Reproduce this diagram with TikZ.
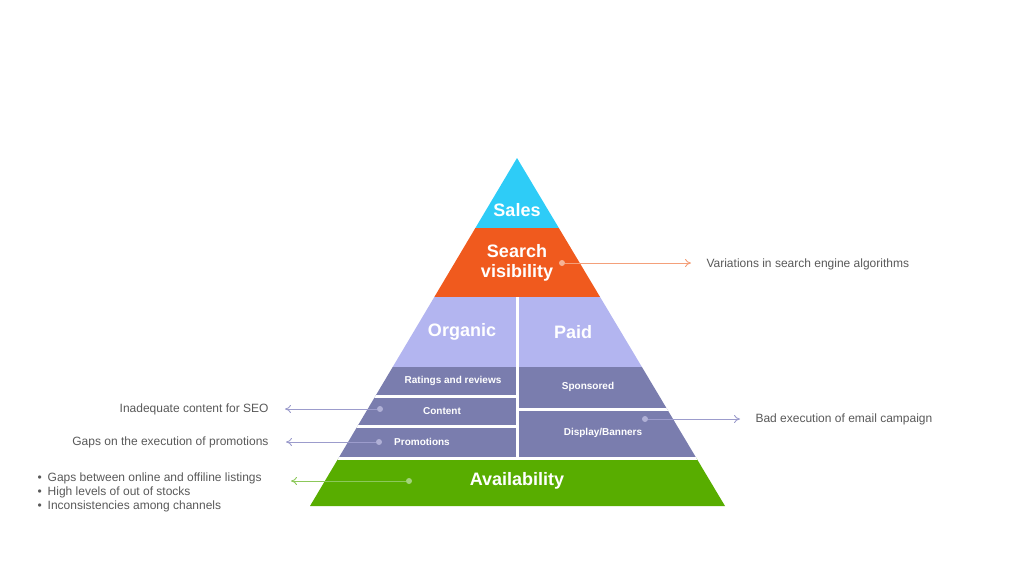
\documentclass[tikz,border=0pt]{standalone}
\usepackage{fontspec}
\setmainfont{Liberation Sans}
\usetikzlibrary{arrows.meta}
\definecolor{salescyan}{HTML}{2ECCF7}
\definecolor{searchorange}{HTML}{F05A1E}
\definecolor{lightlav}{HTML}{B3B5F0}
\definecolor{darklav}{HTML}{7A7DAE}
\definecolor{availgreen}{HTML}{58AD00}
\definecolor{txtgrey}{HTML}{595959}
\definecolor{orangeline}{HTML}{F4A07A}
\definecolor{lavline}{HTML}{9C9CCC}
\definecolor{greenline}{HTML}{8CC85A}

\begin{document}
\begin{tikzpicture}[x=1pt, y=-1pt,
    layer/.style={font=\bfseries\fontsize{18}{20}\selectfont, text=white, align=center},
    cell/.style={font=\bfseries\fontsize{10}{12}\selectfont, text=white},
    note/.style={font=\fontsize{12}{14}\selectfont, text=txtgrey},
    gap/.style={white, line width=3pt},
    dot/.style={circle, inner sep=0pt, minimum size=6pt, fill=#1!80},
    link/.style={-{To[length=6pt,width=8pt]}, #1, line width=0.9pt}
]
\useasboundingbox (0,0) rectangle (1024,576);

% Pyramid bands
\begin{scope}
  \clip (517,158) -- (725,506) -- (310,506) -- cycle;
  \fill[salescyan] (300,150) rectangle (740,228);
  \fill[searchorange] (300,228) rectangle (740,297);
  \fill[lightlav] (300,297) rectangle (740,367);
  \fill[darklav] (300,367) rectangle (740,458);
  \fill[availgreen] (300,458) rectangle (740,510);
  % white separators
  \draw[gap] (517,297) -- (517,458);
  \draw[gap] (300,396.5) -- (517,396.5);
  \draw[gap] (300,426.5) -- (517,426.5);
  \draw[gap] (517,409.5) -- (740,409.5);
  \draw[gap] (300,458.5) -- (740,458.5);
\end{scope}

% Layer labels
\node[layer] (sales) at (517,210) {Sales};
\node[layer] (search) at (517,263) {Search\\visibility};
\node[layer] (organic) at (462,332) {Organic};
\node[layer] (paid) at (573,332) {Paid};
\node[cell] (ratings) at (453,381) {Ratings and reviews};
\node[cell] (content) at (442,411) {Content};
\node[cell] (promo) at (422,442) {Promotions};
\node[cell] (sponsored) at (588,387) {Sponsored};
\node[cell] (display) at (603,433) {Display/Banners};
\node[layer] (avail) at (517,481) {Availability};

% Dots
\node[dot=orangeline] (d1) at (562,263) {};
\node[dot=lavline] (d2) at (380,409) {};
\node[dot=lavline] (d3) at (379,442) {};
\node[dot=lavline] (d4) at (645,419) {};
\node[dot=greenline] (d5) at (409,481) {};

% Notes
\node[note, anchor=west] (n1) at (703,264) {Variations in search engine algorithms};
\node[note, anchor=east] (n2) at (272,409) {Inadequate content for SEO};
\node[note, anchor=east] (n3) at (272,442) {Gaps on the execution of promotions};
\node[note, anchor=west] (n4) at (752,419) {Bad execution of email campaign};
\node[note, anchor=west, align=left] (n5) at (34,492) {%
  \textbullet\hspace{6pt}Gaps between online and offiline listings\\
  \textbullet\hspace{6pt}High levels of out of stocks\\
  \textbullet\hspace{6pt}Inconsistencies among channels};

% Arrows
\draw[link=orangeline] (d1) -- (691,263);
\draw[link=lavline] (d2) -- (285,409);
\draw[link=lavline] (d3) -- (286,442);
\draw[link=lavline] (d4) -- (740,419);
\draw[link=greenline] (d5) -- (291,481);
\end{tikzpicture}
\end{document}
